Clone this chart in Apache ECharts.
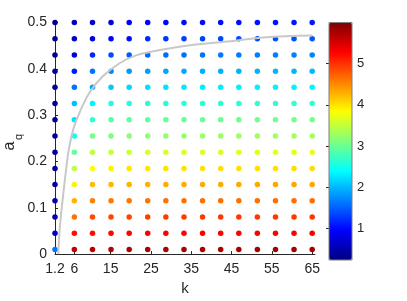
<!DOCTYPE html>
<html>
<head>
<meta charset="utf-8">
<script src="https://cdn.jsdelivr.net/npm/echarts@6/dist/echarts.min.js"></script>
<style>
html,body{margin:0;padding:0;background:#fff;}
#chart{width:407px;height:301px;}
</style>
</head>
<body>
<div id="chart"></div>
<script>
// k columns
var kValues = [1.2, 6, 10.5, 15.1, 19.6, 24.2, 28.7, 33.2, 37.8, 42.3, 46.8, 51.4, 55.9, 60.5, 65];
// a_q rows (top to bottom)
var aqValues = [0.5, 0.465, 0.43, 0.395, 0.36, 0.325, 0.29, 0.255, 0.22, 0.185, 0.15, 0.115, 0.08, 0.045, 0.01];
// colour values, one row per a_q value (same order as aqValues), one entry per k column
var colorValues = [
  [0.30, 0.59, 0.66, 0.81, 0.88, 0.95, 0.98, 1.00, 1.02, 1.03, 1.04, 1.05, 1.06, 1.07, 1.08],
  [0.31, 0.66, 0.81, 0.95, 1.02, 1.20, 1.25, 1.30, 1.33, 1.35, 1.37, 1.38, 1.40, 1.41, 1.42],
  [0.32, 0.74, 1.17, 1.38, 1.46, 1.52, 1.56, 1.60, 1.62, 1.64, 1.66, 1.67, 1.68, 1.69, 1.70],
  [0.33, 1.10, 1.60, 1.74, 1.82, 1.86, 1.89, 1.92, 1.94, 1.95, 1.96, 1.97, 1.98, 1.99, 2.00],
  [0.34, 1.60, 1.89, 2.10, 2.18, 2.22, 2.25, 2.27, 2.29, 2.30, 2.31, 2.32, 2.33, 2.34, 2.35],
  [0.35, 2.03, 2.32, 2.54, 2.56, 2.58, 2.60, 2.62, 2.63, 2.64, 2.65, 2.66, 2.67, 2.68, 2.69],
  [0.36, 2.25, 2.68, 2.90, 2.92, 2.94, 2.96, 2.98, 2.99, 3.00, 3.02, 3.03, 3.04, 3.05, 3.06],
  [0.37, 2.45, 3.04, 3.08, 3.17, 3.20, 3.22, 3.24, 3.26, 3.27, 3.29, 3.30, 3.31, 3.32, 3.33],
  [0.38, 2.97, 3.48, 3.52, 3.56, 3.58, 3.60, 3.62, 3.63, 3.64, 3.66, 3.67, 3.68, 3.69, 3.70],
  [0.40, 3.48, 3.84, 3.91, 3.98, 3.98, 3.99, 4.00, 4.00, 4.01, 4.01, 4.02, 4.02, 4.03, 4.03],
  [0.42, 3.91, 4.20, 4.24, 4.26, 4.28, 4.29, 4.30, 4.31, 4.31, 4.32, 4.32, 4.33, 4.33, 4.34],
  [0.45, 4.27, 4.56, 4.59, 4.61, 4.62, 4.63, 4.63, 4.64, 4.64, 4.65, 4.65, 4.65, 4.66, 4.66],
  [0.50, 4.63, 4.85, 4.88, 4.90, 4.92, 4.93, 4.94, 4.94, 4.95, 4.95, 4.96, 4.96, 4.96, 4.97],
  [0.62, 5.20, 5.21, 5.25, 5.27, 5.28, 5.28, 5.29, 5.29, 5.29, 5.30, 5.30, 5.30, 5.30, 5.31],
  [1.62, 5.64, 5.68, 5.70, 5.72, 5.73, 5.74, 5.75, 5.75, 5.76, 5.77, 5.77, 5.78, 5.78, 5.79]
];
// grey boundary curve
var curveK  = [2.0, 2.37, 2.75, 3.19, 3.94, 4.7, 5.85, 7.27, 9.76, 13.07, 17.22, 20.95, 27.25, 34.7, 45.9, 52.9, 65.1];
var curveAq = [0.0, 0.054, 0.09, 0.125, 0.182, 0.23, 0.273, 0.305, 0.349, 0.384, 0.412, 0.428, 0.4406, 0.451, 0.4607, 0.4675, 0.4717];
// tick labels
var xTicks = [1.2, 6, 15, 25, 35, 45, 55, 65];
var colorbarTicks = [1, 2, 3, 4, 5];
var colorMin = 0.23, colorMax = 6.0;

var jet = ['#00007f','#0000ff','#007fff','#00ffff','#7fff7f','#ffff00','#ff7f00','#ff0000','#7f0000'];

var scatterData = [];
for (var r = 0; r < aqValues.length; r++) {
  for (var c = 0; c < kValues.length; c++) {
    scatterData.push([kValues[c], aqValues[r], colorValues[r][c]]);
  }
}
var curveData = curveK.map(function (k, i) { return [k, curveAq[i]]; });

var FONT = "'Liberation Sans', Arial, Helvetica, sans-serif";
var TXT = '#262626';

var chart = echarts.init(document.getElementById('chart'), null, {renderer: 'canvas'});
chart.setOption({
  animation: false,
  backgroundColor: '#ffffff',
  textStyle: {fontFamily: FONT},
  grid: [
    {left: 55, top: 22.5, width: 260, height: 236.5, containLabel: false},
    {left: 329, top: 22.5, width: 23, height: 237.5, show: true, borderColor: '#7f7f7f', borderWidth: 1, backgroundColor: 'transparent', z: 10}
  ],
  xAxis: [
    {
      type: 'value', gridIndex: 0, min: 1.2, max: 65.7,
      name: 'k', nameLocation: 'middle', nameGap: 24,
      nameTextStyle: {fontSize: 15, color: TXT, fontFamily: FONT},
      axisLine: {show: true, lineStyle: {color: TXT, width: 1}},
      axisTick: {show: true, inside: true, length: 3, customValues: xTicks, lineStyle: {color: TXT}},
      axisLabel: {customValues: xTicks, fontSize: 14, color: TXT, margin: 8, fontFamily: FONT,
        formatter: function (v) { return String(v); }},
      splitLine: {show: false}
    },
    {type: 'value', gridIndex: 1, min: 0, max: 1, show: false}
  ],
  yAxis: [
    {
      type: 'value', gridIndex: 0, min: 0, max: 0.5, interval: 0.1,
      axisLine: {show: true, lineStyle: {color: TXT, width: 1}},
      axisTick: {show: true, inside: true, length: 3, lineStyle: {color: TXT}},
      axisLabel: {fontSize: 14, color: TXT, margin: 8, fontFamily: FONT,
        formatter: function (v) { return String(Math.round(v * 10) / 10); }},
      splitLine: {show: false}
    },
    {
      type: 'value', gridIndex: 1, min: colorMin, max: colorMax, position: 'right',
      axisLine: {show: false},
      axisTick: {show: true, inside: true, length: 3, customValues: colorbarTicks, lineStyle: {color: TXT}},
      axisLabel: {customValues: colorbarTicks, fontSize: 13, color: TXT, margin: 5, fontFamily: FONT},
      splitLine: {show: false}
    }
  ],
  visualMap: {
    type: 'continuous', seriesIndex: 0, dimension: 2,
    min: colorMin, max: colorMax, calculable: false, realtime: false,
    orient: 'vertical', left: 329, top: 22.5, padding: 0,
    itemWidth: 23, itemHeight: 237.5, text: null, showLabel: false,
    hoverLink: false,
    inRange: {color: jet}
  },
  graphic: [
    {type: 'text', x: 10, y: 146, rotation: Math.PI / 2,
     style: {text: 'a', fill: TXT, font: '16px ' + FONT, textAlign: 'center', textVerticalAlign: 'middle'}},
    {type: 'text', x: 19, y: 137, rotation: Math.PI / 2,
     style: {text: 'q', fill: TXT, font: '11px ' + FONT, textAlign: 'center', textVerticalAlign: 'middle'}}
  ],
  series: [
    {
      type: 'scatter', xAxisIndex: 0, yAxisIndex: 0,
      symbol: 'circle', symbolSize: 5.5,
      data: scatterData, z: 2,
      itemStyle: {opacity: 1}
    },
    {
      type: 'line', xAxisIndex: 0, yAxisIndex: 0,
      data: curveData, smooth: 0.4, showSymbol: false, symbol: 'none',
      lineStyle: {color: '#c8c8c8', width: 2}, z: 3
    }
  ]
});
</script>
</body>
</html>
